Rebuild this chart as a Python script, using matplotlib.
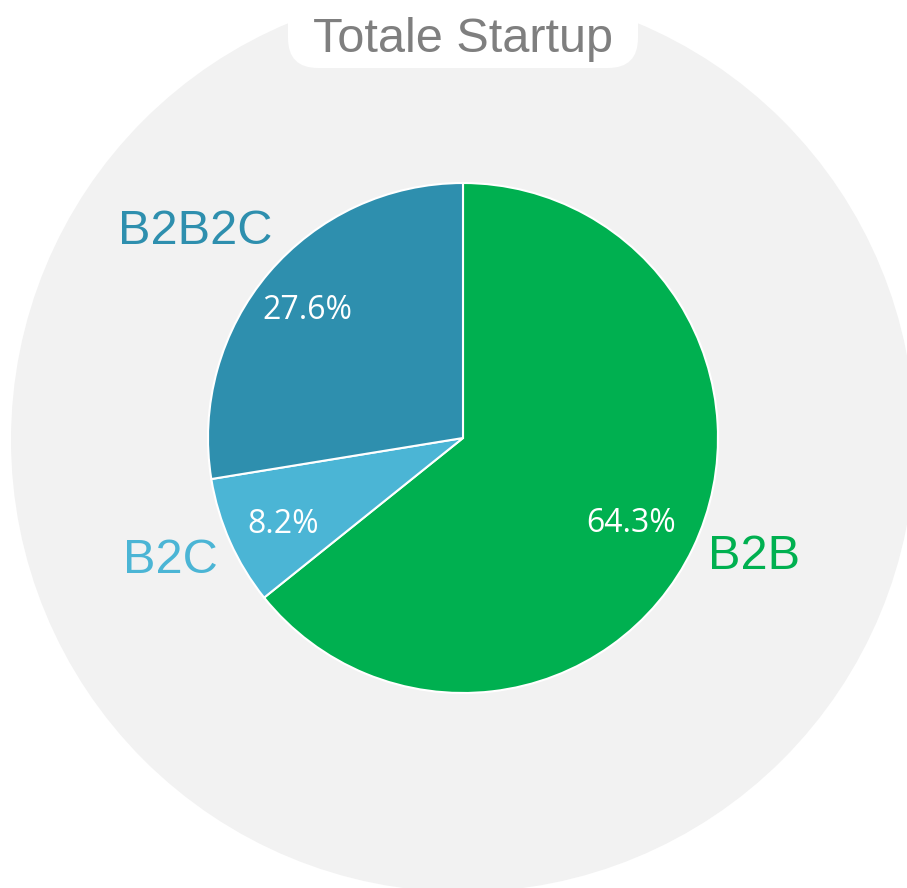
import numpy as np
import matplotlib
matplotlib.use("Agg")
import matplotlib.pyplot as plt
from matplotlib.patches import Circle, FancyBboxPatch

categories = ["B2B", "B2C", "B2B2C"]
values = [64.3, 8.2, 27.6]
colors = ["#00b050", "#4bb5d5", "#2e8fae"]
title = "Totale Startup"

W, H = 907, 888
fig = plt.figure(figsize=(W / 100, H / 100), dpi=100)
ax = fig.add_axes([0, 0, 1, 1])

# background disc
ax.add_patch(Circle((463, H - 440), 452, facecolor="#f2f2f2", edgecolor="none", zorder=0))

cx, cy, R = 463, H - 438, 255
wedges, _ = ax.pie(values, colors=colors, startangle=90, counterclock=False,
                   center=(cx, cy), radius=R,
                   wedgeprops=dict(edgecolor="white", linewidth=1.5), frame=True)
ax.set_xlim(0, W)
ax.set_ylim(0, H)
ax.set_aspect("equal")
ax.axis("off")

# label placement (distance in radii, angle offset from wedge mid in degrees)
pct_dist = [0.755, 0.796, 0.769]
pct_off = [-3.45, 3.82, 2.94]
lab_dist = [1.253, 1.264, 1.297]
lab_off = [1.35, 0.83, 4.54]
for i, w in enumerate(wedges):
    mid = (w.theta1 + w.theta2) / 2
    a = np.deg2rad(mid + pct_off[i])
    ax.text(cx + pct_dist[i] * R * np.cos(a), cy + pct_dist[i] * R * np.sin(a),
            f"{values[i]:.1f}%", ha="center", va="baseline", color="white",
            fontsize=23, family="Open Sans")
    a = np.deg2rad(mid + lab_off[i])
    ax.text(cx + lab_dist[i] * R * np.cos(a), cy + lab_dist[i] * R * np.sin(a),
            categories[i], ha="center", va="baseline", color=colors[i],
            fontsize=35, family="Liberation Sans")

# title box
ax.add_patch(FancyBboxPatch((288 + 30, H - 68 + 30), 350 - 60, 120,
                            boxstyle="round,pad=30", facecolor="white", edgecolor="none", zorder=5))
ax.text(463, H - 52, title, ha="center", va="baseline", color="#7f7f7f",
        fontsize=35, family="Liberation Sans", zorder=6)

fig.savefig("out.png", dpi=100, facecolor="white")
